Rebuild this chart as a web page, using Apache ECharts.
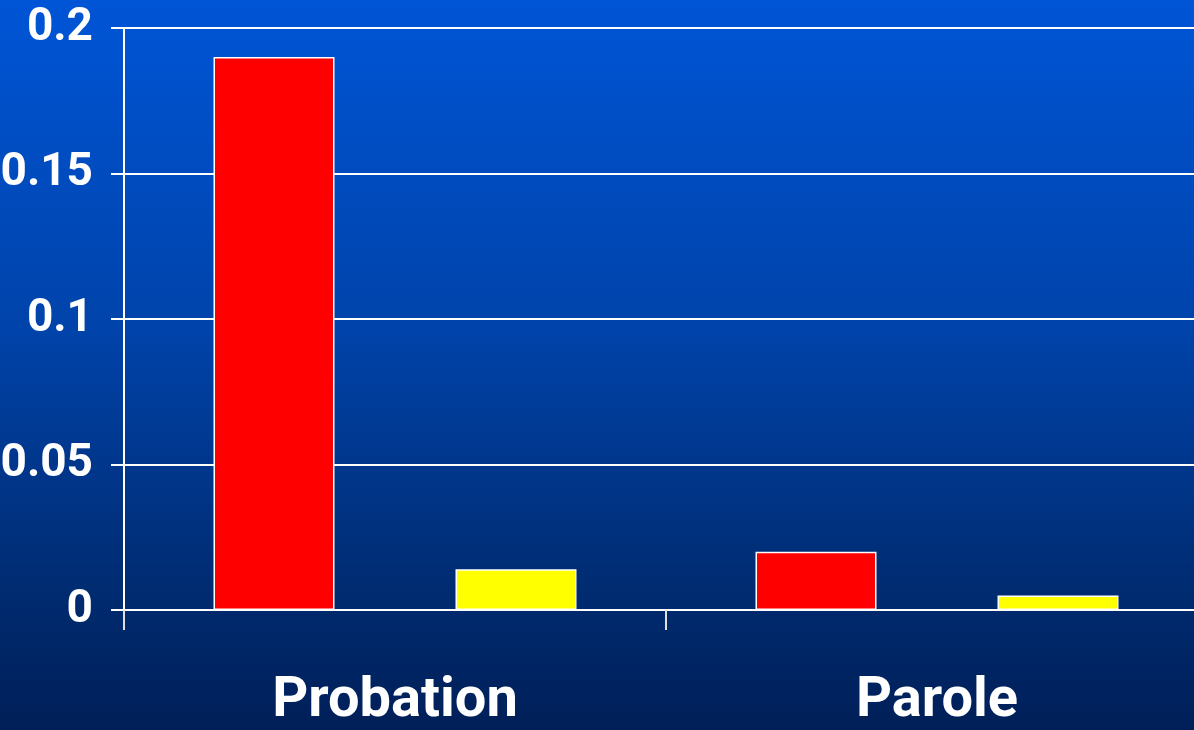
<!DOCTYPE html>
<html>
<head>
<meta charset="utf-8">
<script src="https://cdn.jsdelivr.net/npm/echarts@6/dist/echarts.min.js"></script>
<style>
  html, body { margin: 0; padding: 0; }
  #chart { width: 1194px; height: 730px; }
</style>
</head>
<body>
<div id="chart"></div>
<script>
// categories and values
var categories = ["Probation", "Parole"];
var redValues = [0.19, 0.02];
var yellowValues = [0.014, 0.005];
var yTicks = [0, 0.05, 0.1, 0.15, 0.2];

// no narrow bold font here, Roboto bold is the closest
var fontFamily = "Roboto, 'Liberation Sans', sans-serif";

var chart = echarts.init(document.getElementById("chart"));

chart.setOption({
  animation: false,
  backgroundColor: {
    type: "linear",
    x: 0, y: 0, x2: 0, y2: 1,
    colorStops: [
      { offset: 0, color: "#0055d6" },
      { offset: 0.45, color: "#0043aa" },
      { offset: 0.8, color: "#002c72" },
      { offset: 1, color: "#001f58" }
    ]
  },
  grid: {
    left: 124,
    top: 28,
    width: 1084,
    height: 582,
    containLabel: false,
    outerBoundsMode: "none"
  },
  xAxis: {
    type: "category",
    data: categories,
    boundaryGap: true,
    axisLine: { show: true, lineStyle: { color: "#ffffff", width: 2 } },
    axisTick: { show: true, length: 20, lineStyle: { color: "#e0e0e0", width: 2 } },
    axisLabel: {
      color: "#ffffff",
      fontFamily: fontFamily,
      fontWeight: "bold",
      fontSize: 56,
      margin: 64
    }
  },
  yAxis: {
    type: "value",
    min: yTicks[0],
    max: yTicks[yTicks.length - 1],
    interval: 0.05,
    axisLine: { show: true, lineStyle: { color: "#ffffff", width: 2 } },
    axisTick: { show: true, length: 13, lineStyle: { color: "#ffffff", width: 2 } },
    splitLine: { show: true, lineStyle: { color: "#ffffff", width: 2 } },
    axisLabel: {
      color: "#ffffff",
      fontFamily: fontFamily,
      fontWeight: "bold",
      fontSize: 46,
      margin: 31,
      padding: [4, 0, 0, 0]
    }
  },
  series: [
    {
      type: "bar",
      data: redValues,
      barWidth: 121,
      barGap: "100%",
      itemStyle: { color: "#ff0000", borderColor: "#ffffff", borderWidth: 1.5 }
    },
    {
      type: "bar",
      data: yellowValues,
      barWidth: 121,
      itemStyle: { color: "#ffff00", borderColor: "#ffffff", borderWidth: 1.5 }
    }
  ]
});
</script>
</body>
</html>
